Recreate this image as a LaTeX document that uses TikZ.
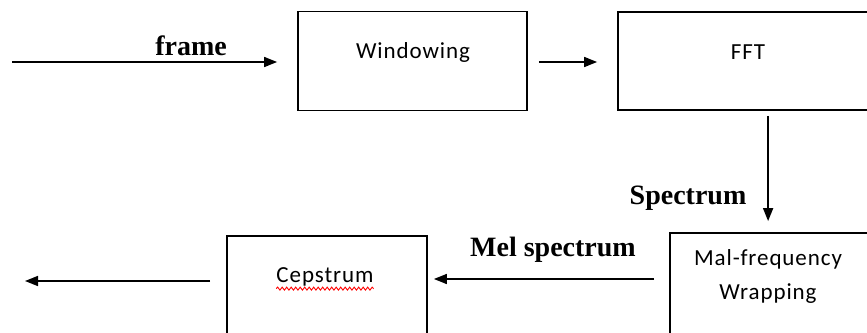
\documentclass[tikz,border=0pt]{standalone}
\usepackage{fontspec}
\setmainfont{Liberation Serif}
\newfontfamily\boxfont[LetterSpace=4]{Carlito}
\usetikzlibrary{arrows.meta,decorations.pathmorphing}
\tikzset{
  box/.style={draw=black, line width=1.8pt, rectangle, inner sep=0pt},
  boxtext/.style={font=\boxfont\fontsize{23}{27}\selectfont, inner sep=0pt, text=black},
  lbl/.style={font=\bfseries\fontsize{28}{32}\selectfont, inner sep=0pt},
  arr/.style={line width=1.6pt, -{Triangle[length=13pt,width=10pt]}},
}
\begin{document}
\begin{tikzpicture}[x=1pt,y=-1pt]
\useasboundingbox (0,0) rectangle (867,332);
% boxes
\node[box, minimum width=229pt, minimum height=99pt] (win) at (412.5,61) {};
\node[box, minimum width=262pt, minimum height=98pt] (fft) at (749,61) {};
\node[box, minimum width=210pt, minimum height=107pt] (mal) at (775,286.5) {};
\node[box, minimum width=200pt, minimum height=104pt] (cep) at (327,288) {};
% box texts
\node[boxtext] (wint) at (413,52) {Windowing};
\node[boxtext] (fftt) at (748,52) {FFT};
\node[boxtext] (malt1) at (768,259) {Mal-frequency};
\node[boxtext] (malt2) at (768,294) {Wrapping};
\node[boxtext] (cept) at (325,277) {Cepstrum};
\draw[red, line width=0.9pt, decorate, decoration={snake, amplitude=1.5pt, segment length=4.5pt}]
  ([yshift=-6pt]cept.base west) -- ([yshift=-6pt]cept.base east);
% labels
\node[lbl] (frame) at (191,46) {frame};
\node[lbl] (spec) at (688,198) {Spectrum};
\node[lbl] (melspec) at (553,250) {Mel spectrum};
% connectors
\coordinate (in) at (12,62);
\coordinate (out) at (25,281);
\draw[arr] (in) -- ([xshift=-20pt,yshift=-1pt]win.west);
\draw[arr] ([xshift=11pt,yshift=-1pt]win.east) -- ([xshift=-20pt,yshift=-1pt]fft.west);
\draw[arr] ([xshift=151pt,yshift=-5pt]fft.south west) -- ([xshift=99pt,yshift=11pt]mal.north west);
\draw[arr] ([xshift=-15pt,yshift=7.5pt]mal.west) -- ([xshift=6pt,yshift=9pt]cep.east);
\draw[arr] ([xshift=-16pt,yshift=7pt]cep.west) -- (out);
\end{tikzpicture}
\end{document}
